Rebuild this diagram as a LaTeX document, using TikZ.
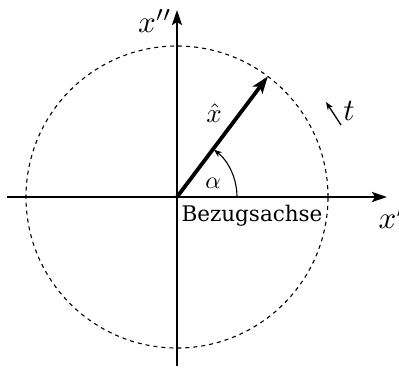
\documentclass[tikz,border=0pt]{standalone}
\usepackage{fontspec}
\setmainfont{DejaVu Serif}
\usetikzlibrary{arrows.meta}
\begin{document}
\begin{tikzpicture}[x=1pt,y=1pt,
  axis/.style={line width=2.2pt,-{Stealth[length=15pt,width=10pt,inset=3pt]}},
  vec/.style={line width=3.8pt,-{Stealth[length=17pt,width=12pt,inset=4pt]}},
  lbl/.style={inner sep=0pt}]
\useasboundingbox (-177,-171) rectangle (222,197);
\coordinate (O) at (0,0);
\coordinate (L) at (-170,0);
\coordinate (R) at (210,0);
\coordinate (B) at (0,-169);
\coordinate (T) at (0,187);
\coordinate (V) at (53:151);
\draw[dashed,line width=1.1pt,dash pattern=on 4pt off 4pt] (O) circle (151);
\draw[axis] (L) -- (R);
\draw[axis] (B) -- (T);
\draw[vec] (O) -- (V);
\draw[line width=1.1pt,-{Stealth[length=8pt,width=6pt]}] (60,0) arc (0:52:60);
\node[lbl,scale=2.4] (al) at (36,14) {$\alpha$};
\node[lbl,scale=2.7] (xh) at (37,84) {$\hat{x}$};
\node[lbl] (bz) at (75,-19) {\fontsize{21.5}{21.5}\selectfont Bezugsachse};
\node[lbl,anchor=west,scale=3.1] (xp) at (201,-20) {$x'$};
\node[lbl,scale=3.1] (xpp) at (-22,176) {$x''$};
\node[lbl,scale=3.1] (t) at (172,86) {$t$};
\coordinate (ta) at (164,72);
\coordinate (tb) at (149,95);
\draw[line width=1.3pt,-{Stealth[length=8pt,width=6pt]}] (ta) -- (tb);
\end{tikzpicture}
\end{document}
